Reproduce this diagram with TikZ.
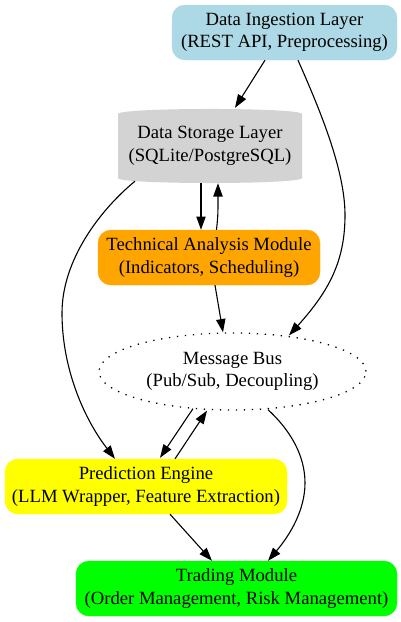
\documentclass[tikz,border=0pt]{standalone}
\usepackage{fontspec}
\setmainfont{Liberation Serif}
\usetikzlibrary{arrows.meta,shapes.geometric}
\definecolor{ingcol}{HTML}{ADD8E6}
\definecolor{stocol}{HTML}{D3D3D3}
\definecolor{techcol}{HTML}{FFA500}
\definecolor{predcol}{HTML}{FFFF00}
\definecolor{tradecol}{HTML}{00FF00}
\begin{document}
\begin{tikzpicture}[x=1pt,y=-1pt,
  lbl/.style={inner sep=0pt, align=center, font=\fontsize{18.67}{22.4}\selectfont},
  box/.style={lbl, rounded corners=13pt, minimum height=55pt},
  arr/.style={-{Triangle[length=13.3pt,width=9.3pt]}, line width=1.1pt, black}]
\useasboundingbox (0,0) rectangle (401,622);
% storage cylinder background
\fill[stocol] (118,114) .. controls (118,107.3) and (302,107.3) .. (302,114)
  -- (302,178) .. controls (302,184.67) and (118,184.67) .. (118,178) -- cycle;
\node[box, fill=ingcol, draw=ingcol, minimum width=225pt] (ing) at (284.5,32.5)
  {Data Ingestion Layer\\(REST API, Preprocessing)};
\node[lbl, minimum width=184pt, minimum height=74pt] (sto) at (210,146)
  {Data Storage Layer\\(SQLite/PostgreSQL)};
\node[box, fill=techcol, draw=techcol, minimum width=222pt] (tech) at (209,257.5)
  {Technical Analysis Module\\(Indicators, Scheduling)};
\node[lbl, ellipse, draw, line width=1.3pt, dash pattern=on 1.3pt off 6.7pt,
  minimum width=267pt, minimum height=77pt] (bus) at (232.5,371.5)
  {Message Bus\\(Pub/Sub, Decoupling)};
\node[box, fill=predcol, draw=predcol, minimum width=282pt] (pred) at (146,486.5)
  {Prediction Engine\\(LLM Wrapper, Feature Extraction)};
\node[box, fill=tradecol, draw=tradecol, minimum width=321pt] (trade) at (236.5,588.5)
  {Trading Module\\(Order Management, Risk Management)};
% connectors
\draw[arr] ([xshift=-19.5pt]ing.south) -- ([xshift=25pt,yshift=1pt]sto.north);
\draw[arr] ([xshift=13.5pt]ing.south) .. controls (320,110) and (345,170) .. (345,215)
  .. controls (345,260) and (330,290) .. ([xshift=56.5pt,yshift=-3pt]bus.north);
\draw[arr] ([xshift=-9pt]sto.south) -- ([xshift=-8pt]tech.north);
\draw[arr] ([xshift=7.5pt]tech.north) .. controls (218,215) .. ([xshift=8pt]sto.south);
\draw[arr] ([xshift=6pt]tech.south) -- ([xshift=-9.5pt]bus.north);
\draw[arr] ([xshift=-75pt,yshift=2pt]sto.south) .. controls (100,210) and (62,260) .. (62,313)
  .. controls (62,370) and (85,420) .. ([xshift=-31pt]pred.north);
\draw[arr] ([xshift=-39.5pt,yshift=2pt]bus.south) -- ([xshift=14pt,yshift=1pt]pred.north);
\draw[arr] ([xshift=29pt]pred.north) -- ([xshift=-25.5pt]bus.south);
\draw[arr] ([xshift=35.5pt,yshift=1pt]bus.south) .. controls (290,430) and (305,455) .. (305,483)
  .. controls (305,510) and (290,535) .. ([xshift=31.5pt]trade.north);
\draw[arr] ([xshift=24pt]pred.south) -- ([xshift=-24.5pt]trade.north);
\end{tikzpicture}
\end{document}
